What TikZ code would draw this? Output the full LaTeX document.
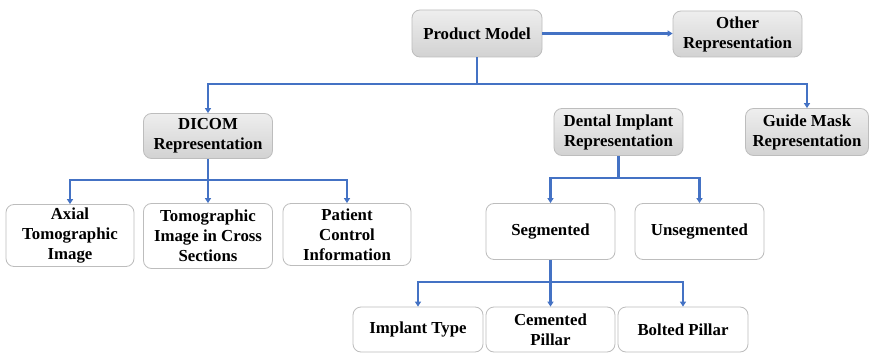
\documentclass[tikz,border=0pt]{standalone}
\usepackage{fontspec}
\setmainfont{Liberation Serif}
\usetikzlibrary{arrows.meta}
\definecolor{linkblue}{HTML}{4472C4}
\definecolor{boxedge}{HTML}{BDBDBD}
\definecolor{greytop}{HTML}{EEEEEE}
\definecolor{greybot}{HTML}{D2D2D2}
\tikzset{
  box/.style={draw=boxedge, line width=0.8pt, rounded corners=8pt, align=center,
    font=\fontsize{16.8}{20}\selectfont\bfseries, inner sep=2pt},
  greybox/.style={box, top color=greytop, bottom color=greybot},
  whitebox/.style={box, fill=white},
  link/.style={draw=linkblue, line width=2.2pt},
  arrowlink/.style={link, -{Triangle[width=6pt,length=5pt]}},
}
\newcommand{\boxat}[6]{%
  \node[#1, minimum width=#4pt, minimum height=#5pt] (#2) at (#3) {#6};}
\begin{document}
\begin{tikzpicture}[x=1pt,y=-1pt]
  \useasboundingbox[fill=white] (0,0) rectangle (871,353);

  % top level
  \boxat{greybox}{pm}{477,33.5}{130}{47}{Product Model}
  \boxat{greybox}{other}{737.5,34}{129}{46}{Other\\Representation}

  % second level
  \boxat{greybox}{dicom}{208,136}{129}{45}{DICOM\\Representation}
  \boxat{greybox}{dental}{618.5,132}{129}{47}{Dental Implant\\Representation}
  \boxat{greybox}{guide}{807,132}{123}{47}{Guide Mask\\Representation}

  % DICOM children
  \boxat{whitebox}{axial}{70,235.5}{128}{62}{Axial\\Tomographic\\Image}
  \boxat{whitebox}{tomo}{208,236}{129}{65}{Tomographic\\Image in Cross\\Sections}
  \boxat{whitebox}{patient}{347,234.5}{128}{62}{Patient\\Control\\Information}

  % dental implant children
  \boxat{whitebox}{seg}{550.5,231.5}{129}{56}{Segmented}
  \boxat{whitebox}{unseg}{699.5,231.5}{129}{56}{Unsegmented}

  % segmented children
  \boxat{whitebox}{implant}{418,329.5}{130}{45}{Implant Type}
  \boxat{whitebox}{cemented}{550.5,329.5}{129}{45}{Cemented\\Pillar}
  \boxat{whitebox}{bolted}{683,329.5}{130}{45}{Bolted Pillar}

  % junction points of the tree
  \coordinate (jtop) at (477,84);
  \coordinate (jdicom) at (208,180);
  \coordinate (jdental) at (618.5,178);
  \coordinate (jseg) at (550.5,282);

  % connectors
  \draw[arrowlink] (pm.east) -- (other.west |- pm.east);

  \draw[link] (pm.south) -- (jtop);
  \draw[arrowlink] (jtop) -| (dicom.north);
  \draw[arrowlink] (jtop) -| (guide.north);

  \draw[link] (dicom.south) -- (jdicom);
  \draw[arrowlink] (jdicom) -| (axial.north);
  \draw[arrowlink] (jdicom) -- (tomo.north);
  \draw[arrowlink] (jdicom) -| (patient.north);

  \draw[link] (dental.south) -- (jdental);
  \draw[arrowlink] (jdental) -| (seg.north);
  \draw[arrowlink] (jdental) -| (unseg.north);

  \draw[link] (seg.south) -- (jseg);
  \draw[arrowlink] (jseg) -| (implant.north);
  \draw[arrowlink] (jseg) -- (cemented.north);
  \draw[arrowlink] (jseg) -| (bolted.north);
\end{tikzpicture}
\end{document}
